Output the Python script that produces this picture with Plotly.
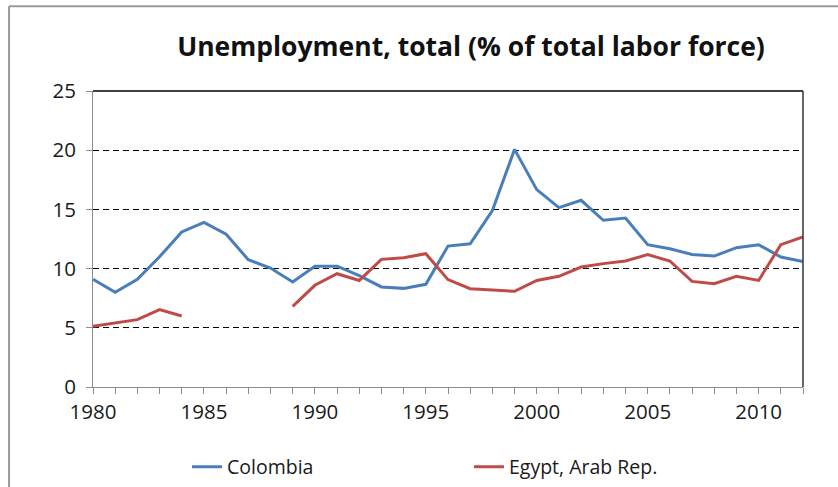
import plotly.graph_objects as go

years = list(range(1980, 2013))
colombia = [9.1, 8.0, 9.1, 11.0, 13.1, 13.9, 12.9, 10.75, 10.05, 8.87,
            10.2, 10.2, 9.4, 8.45, 8.33, 8.67, 11.9, 12.1, 14.9, 20.07,
            16.67, 15.15, 15.77, 14.08, 14.27, 12.02, 11.68, 11.2, 11.06, 11.77,
            12.02, 10.98, 10.6]
egypt = [5.12, 5.4, 5.69, 6.53, 6.0, None, None, None, None, 6.81,
         8.59, 9.57, 9.0, 10.78, 10.92, 11.26, 9.07, 8.3, 8.16, 8.08,
         9.0, 9.35, 10.13, 10.42, 10.64, 11.18, 10.64, 8.92, 8.73, 9.35,
         9.0, 12.02, 12.67]
series_names = ["Colombia", "Egypt, Arab Rep."]
title_text = "Unemployment, total (% of total labor force)"

FONT = "Open Sans"
fig = go.Figure()
fig.add_trace(go.Scatter(x=years, y=colombia, mode="lines", name=series_names[0],
                         line=dict(color="#4A7EBB", width=3), connectgaps=False))
fig.add_trace(go.Scatter(x=years, y=egypt, mode="lines", name=series_names[1],
                         line=dict(color="#BE4B48", width=3), connectgaps=False))

L, R, T, B = 93, 34.5, 90.7, 100.3
PW, PH = 838 - L - R, 487 - T - B

fig.update_layout(
    width=838, height=487,
    margin=dict(l=L, r=R, t=T, b=B),
    paper_bgcolor="white", plot_bgcolor="white",
    font=dict(family=FONT, color="#1a1a1a", size=20),
    title=dict(text="<b>" + title_text + "</b>", x=471 / 838, xanchor="center",
               y=1 - 47 / 487, yanchor="middle",
               font=dict(family=FONT, size=26.5, color="#111")),
    showlegend=True,
    legend=dict(orientation="h", xref="container", yref="container",
                x=187 / 838, xanchor="left", y=1 - 467 / 487, yanchor="middle",
                entrywidth=237, entrywidthmode="pixels",
                font=dict(family=FONT, size=19.5, color="#1a1a1a"),
                bgcolor="rgba(0,0,0,0)"),
    xaxis=dict(range=[1980, 2012], tick0=1980, dtick=5, showgrid=False,
               zeroline=False, showline=True, linecolor="#8c8c8c", linewidth=1,
               ticks="outside", ticklen=6, tickcolor="#8c8c8c", tickwidth=1,
               minor=dict(dtick=1, ticks="outside", ticklen=6, tickcolor="#8c8c8c", showgrid=False),
               tickfont=dict(family=FONT, size=20.5, color="#1a1a1a")),
    yaxis=dict(range=[0, 25], dtick=5, showgrid=True, gridcolor="#000000",
               griddash="6px,4px", gridwidth=1,
               zeroline=False, showline=True, linecolor="#8c8c8c", linewidth=1,
               ticks="outside", ticklen=6, tickcolor="#8c8c8c",
               ticklabelstandoff=6,
               tickfont=dict(family=FONT, size=20.5, color="#1a1a1a")),
)

# plot-area frame (top and right in black)
fig.add_shape(type="line", xref="paper", yref="paper", x0=0, x1=1, y0=1, y1=1,
              line=dict(color="#000", width=1.5))
fig.add_shape(type="line", xref="paper", yref="paper", x0=1, x1=1, y0=0, y1=1,
              line=dict(color="#333", width=1.5))
# chart outer border (gray, top and left)
bx = (9 - L) / PW
by = 1 + (T - 6) / PH
fig.add_shape(type="line", xref="paper", yref="paper", x0=bx, x1=1.2, y0=by, y1=by,
              line=dict(color="#9a9a9a", width=2))
fig.add_shape(type="line", xref="paper", yref="paper", x0=bx, x1=bx, y0=-0.5, y1=by,
              line=dict(color="#9a9a9a", width=2))

fig.write_html("out.html", config={"displayModeBar": False},
               post_script="document.body.style.margin='0';document.body.style.padding='0';")
